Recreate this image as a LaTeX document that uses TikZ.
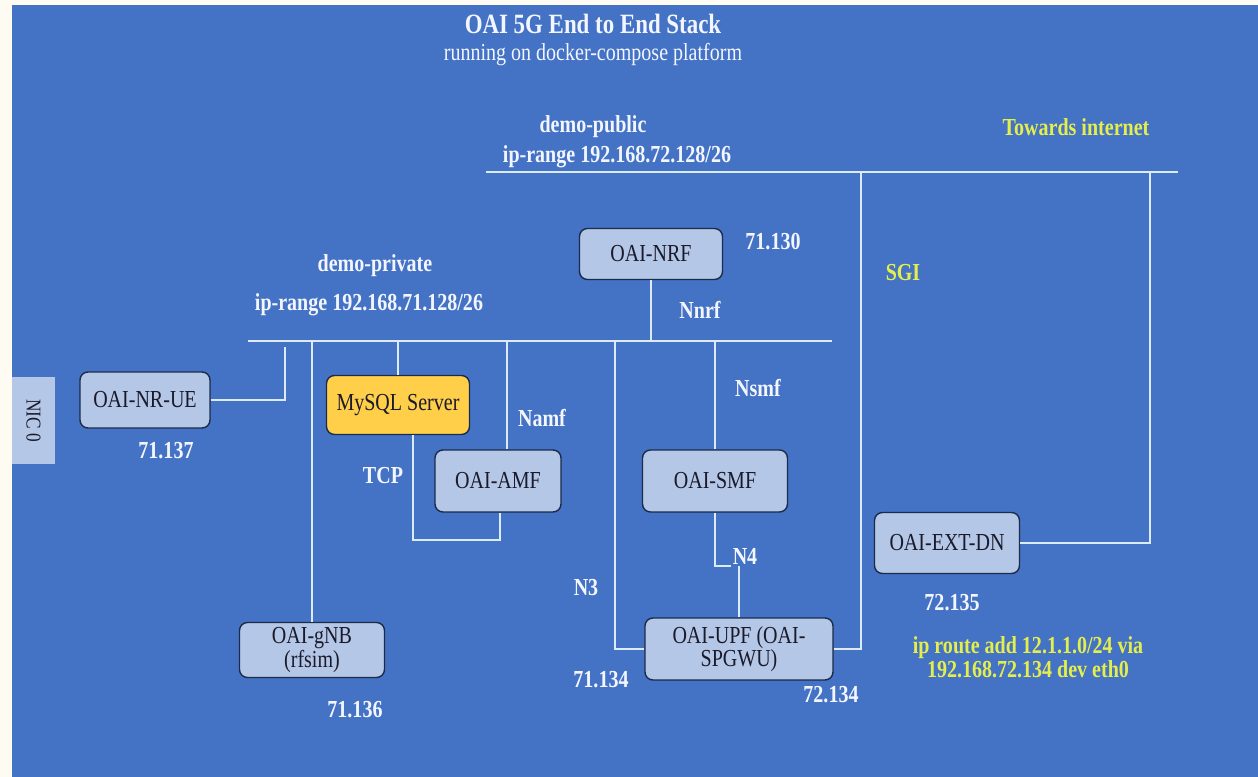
\documentclass[tikz,border=0pt]{standalone}
\usepackage{fontspec}
\setmainfont{Liberation Serif}[FakeStretch=0.82]
\usepackage{tikz}
\usetikzlibrary{positioning, calc}
\definecolor{paper}{HTML}{FDFBF2}
\definecolor{bgblue}{HTML}{4472C4}
\definecolor{boxfill}{HTML}{B4C7E7}
\definecolor{boxedge}{HTML}{1C2B4A}
\definecolor{dbfill}{HTML}{FFCF4A}
\definecolor{wire}{HTML}{DCEBFA}
\definecolor{lbltext}{HTML}{F3F6FF}
\definecolor{hint}{HTML}{E4EE4C}
\definecolor{ink}{HTML}{1A1A2A}

\tikzset{
  nfbox/.style={draw=boxedge, line width=0.8pt, rounded corners=4.5pt, text=ink,
    align=center, font=\fontsize{13.9}{13.5}\selectfont, inner sep=2pt},
  netline/.style={draw=wire, line width=1.1pt},
  lbl/.style={font=\fontsize{13.9}{14}\selectfont\bfseries, align=center, inner sep=1pt},
}

\begin{document}
\begin{tikzpicture}[x=0.02cm, y=-0.02cm]
% canvas
\fill[paper] (0,0) rectangle (1258,777);
\fill[bgblue] (12,5) rectangle (1258,777);
\useasboundingbox (0,0) rectangle (1258,777);

% NIC tab
\node[fill=boxfill, rotate=-90, minimum width=1.74cm, minimum height=0.86cm,
  text=ink, font=\fontsize{12}{13}\selectfont] (nic) at (33.5,420.5) {NIC 0};

% heading
\node[font=\fontsize{15.9}{17}\selectfont\bfseries, text=lbltext] (title) at (593,24) {OAI 5G End to End Stack};
\node[font=\fontsize{13.9}{15}\selectfont, text=lbltext] (subtitle) at (593,55) {running on docker-compose platform};

% network functions
\foreach \name/\x/\y/\w/\h/\col/\txt in {
    nrue/145/400/2.6/1.12/boxfill/{OAI-NR-UE},
    gnb/312/650/2.9/1.1/boxfill/{OAI-gNB\\(rfsim)},
    mysql/398/405/2.86/1.18/dbfill/{MySQL Server},
    amf/498/481/2.52/1.24/boxfill/{OAI-AMF},
    nrf/651/254/2.86/1.02/boxfill/{OAI-NRF},
    smf/715/481/2.9/1.24/boxfill/{OAI-SMF},
    upf/739/649/3.76/1.24/boxfill/{OAI-UPF (OAI-\\SPGWU)},
    extdn/947/543/2.9/1.22/boxfill/{OAI-EXT-DN}}{
  \node[nfbox, fill=\col, minimum width=\w cm, minimum height=\h cm] (\name) at (\x,\y) {\txt};
}

% labels and addresses
\foreach \x/\y/\col/\txt [count=\k] in {
    593/127/lbltext/{demo-public},
    617/157/lbltext/{ip-range 192.168.72.128/26},
    1076/127/hint/{Towards internet},
    375/266/lbltext/{demo-private},
    369/305/lbltext/{ip-range 192.168.71.128/26},
    773/242/lbltext/{71.130},
    700/310/lbltext/{Nnrf},
    903/273/hint/{SGI},
    758/388/lbltext/{Nsmf},
    542/418/lbltext/{Namf},
    383/476/lbltext/{TCP},
    166/451/lbltext/{71.137},
    586/588/lbltext/{N3},
    952/603/lbltext/{72.135},
    1028/657/hint/{ip route add 12.1.1.0/24 via\\192.168.72.134 dev eth0},
    601/680/lbltext/{71.134},
    831/695/lbltext/{72.134},
    355/710/lbltext/{71.136}}{
  \node[lbl, text=\col] (lbl\k) at (\x,\y) {\txt};
}
\node[lbl, text=lbltext] (n4) at (745,556) {N4};

% networks
\coordinate (pubL) at (486,172);
\coordinate (pubR) at (1178,172);
\coordinate (privL) at (248,341);
\coordinate (privR) at (832,341);
\coordinate (uetap) at (285,347);
\draw[netline] (pubL) -- (pubR);
\draw[netline] (privL) -- (privR);

% demo-private links
\draw[netline] (nrue.east) -| (uetap);
\draw[netline] (gnb.north) -- (gnb.north |- privL);
\draw[netline] (mysql.north) -- (mysql.north |- privL);
\draw[netline] (507,0 |- amf.north) -- (507,0 |- privL);
\draw[netline] (nrf.south) -- (nrf.south |- privL);
\draw[netline] (smf.north) -- (smf.north |- privL);
\draw[netline] (upf.west) -| (615,0 |- privL);
\draw[netline] (413,0 |- mysql.south) -- (413,540) -| (500,0 |- amf.south);
\draw[netline] (smf.south) |- (n4.south west);
\draw[netline] (upf.north) -- (upf.north |- n4.south);

% demo-public links
\draw[netline] (upf.east) -| (861,0 |- pubL);
\draw[netline] (extdn.east) -| (1150,0 |- pubL);
\end{tikzpicture}
\end{document}
